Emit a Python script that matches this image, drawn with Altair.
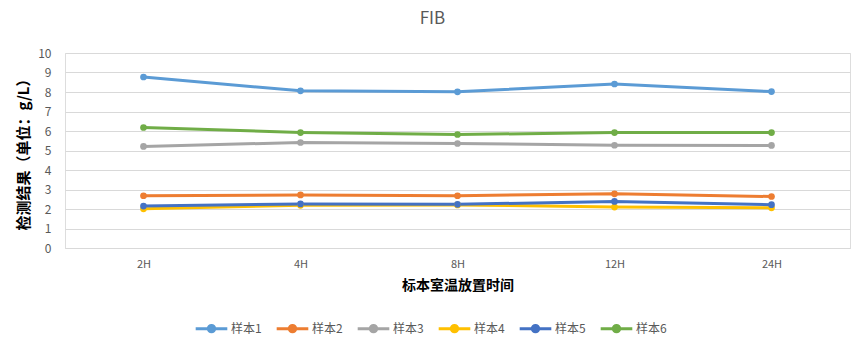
import altair as alt
import pandas as pd

times = ["2H", "4H", "8H", "12H", "24H"]
series_names = ["样本1", "样本2", "样本3", "样本4", "样本5", "样本6"]
s1 = [8.77, 8.06, 8.01, 8.41, 8.02]
s2 = [2.68, 2.72, 2.68, 2.78, 2.64]
s3 = [5.21, 5.41, 5.36, 5.27, 5.26]
s4 = [2.01, 2.19, 2.21, 2.10, 2.06]
s5 = [2.15, 2.26, 2.24, 2.39, 2.22]
s6 = [6.18, 5.92, 5.82, 5.92, 5.92]
colors = ["#5B9BD5", "#ED7D31", "#A5A5A5", "#FFC000", "#4472C4", "#70AD47"]

rows = []
for name, vals in zip(series_names, [s1, s2, s3, s4, s5, s6]):
    for t, v in zip(times, vals):
        rows.append({"time": t, "value": v, "series": name})
df = pd.DataFrame(rows)

font = "Noto Sans CJK SC"
legend_symbol = "M-1,0L1,0M-0.2,0A0.2,0.2 0 1,1 0.2,0A0.2,0.2 0 1,1 -0.2,0Z"

chart = alt.Chart(df).mark_line(
    strokeWidth=3,
    point=alt.OverlayMarkDef(size=45, filled=True, strokeWidth=0),
).encode(
    x=alt.X("time:N", sort=times,
            scale=alt.Scale(type="point", padding=0.5),
            axis=alt.Axis(title="标本室温放置时间", labelAngle=0, ticks=False,
                          domain=True, domainColor="#D9D9D9", labelColor="#595959",
                          labelFontSize=11, labelPadding=10, labelFont=font,
                          titleFont=font, titleFontSize=14, titleFontWeight="bold",
                          titleColor="#000000", titlePadding=9)),
    y=alt.Y("value:Q", scale=alt.Scale(domain=[0, 10], nice=False),
            axis=alt.Axis(title="检测结果（单位：g/L）", values=list(range(0, 11)),
                          ticks=False, domain=False, gridColor="#D9D9D9",
                          labelColor="#595959", labelFontSize=12, labelFont=font,
                          labelPadding=14, titleFont=font, titleFontSize=15,
                          titleFontWeight="bold", titleColor="#000000",
                          titlePadding=6)),
    color=alt.Color("series:N", sort=series_names,
                    scale=alt.Scale(domain=series_names, range=colors),
                    legend=alt.Legend(title=None, orient="none", direction="horizontal",
                                      legendX=129, legendY=258,
                                      symbolType=legend_symbol, symbolSize=1000,
                                      symbolStrokeWidth=3, labelFont=font,
                                      labelFontSize=12, labelColor="#595959",
                                      columnPadding=8, labelOffset=2)),
).properties(
    width=785,
    height=195,
    title=alt.TitleParams("FIB", font=font, fontSize=17, fontWeight="normal",
                          color="#595959", anchor="middle", dx=-25, offset=19),
    autosize=alt.AutoSizeParams(type="none"),
    padding={"left": 65, "top": 53, "right": 15, "bottom": 104},
).configure_view(stroke=None).configure(background="white")

chart.save("out.html", embed_options={"renderer": "svg", "actions": False})
